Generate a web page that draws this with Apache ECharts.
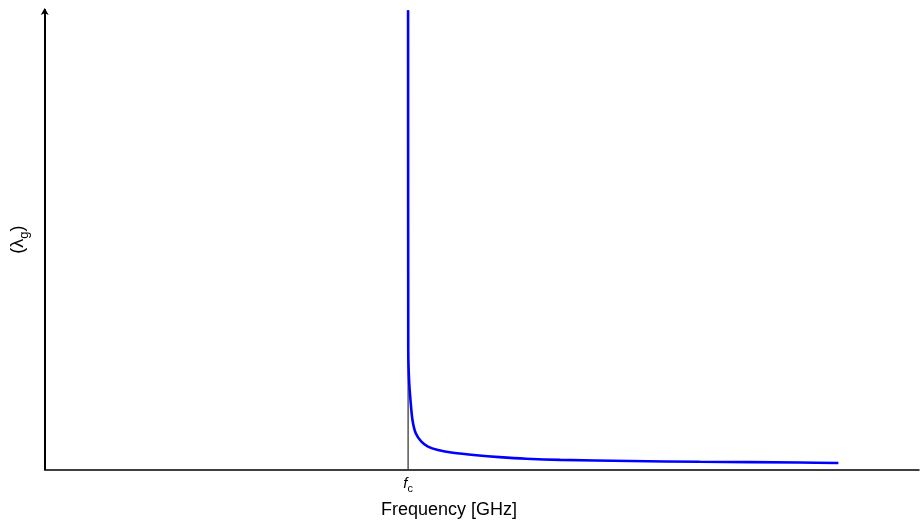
<!DOCTYPE html>
<html>
<head>
<meta charset="utf-8">
<script src="https://cdn.jsdelivr.net/npm/echarts@6/dist/echarts.min.js"></script>
<style>
  html, body { margin: 0; padding: 0; background: #fff; }
  #chart { width: 922px; height: 526px; }
</style>
</head>
<body>
<div id="chart"></div>
<script>
// frequency in units of the cutoff frequency fc, guide wavelength in arbitrary units
const freq = [1.000, 1.0005, 1.0027, 1.0066, 1.0121, 1.0211, 1.0367, 1.0548, 1.0823, 1.1234, 1.1876, 1.2515, 1.3248, 1.4189, 1.6109, 1.8029, 2.0771, 2.1842];
const lambdaG = [459, 119, 89.3, 69.3, 49.3, 36, 27.6, 22.6, 19.3, 16.6, 14.1, 12.2, 10.6, 9.4, 8.3, 7.5, 6.8, 6.3];
const cutoff = [1];
const xMax = 2.406;
const yMax = 459.3;

const font = '"Liberation Sans", Arial, Helvetica, sans-serif';

const chart = echarts.init(document.getElementById('chart'), null, { renderer: 'canvas' });

chart.setOption({
  animation: false,
  backgroundColor: '#fff',
  grid: { left: 44.7, right: 0, top: 10, bottom: 56.7, containLabel: false },
  xAxis: {
    type: 'value',
    min: 0,
    max: xMax,
    interval: 1,
    splitLine: { show: false },
    axisTick: { show: false },
    axisLine: { lineStyle: { color: '#000', width: 1.5 } },
    axisLabel: {
      margin: 7,
      formatter: v => (cutoff.includes(v) ? '{f|f}{c|c}' : ''),
      rich: {
        f: { fontFamily: font, fontStyle: 'italic', fontSize: 15, color: '#000', lineHeight: 18, verticalAlign: 'top' },
        c: { fontFamily: font, fontSize: 11, color: '#000', lineHeight: 8, verticalAlign: 'bottom' }
      }
    }
  },
  yAxis: {
    type: 'value',
    min: 0,
    max: yMax,
    splitLine: { show: false },
    axisTick: { show: false },
    axisLabel: { show: false },
    axisLine: {
      lineStyle: { color: '#000', width: 2 },
      symbol: ['none', 'arrow'],
      symbolSize: [6, 7],
      symbolOffset: [0, 2]
    },
    name: '{a|(λ}{s|g}{a|)}',
    nameLocation: 'middle',
    nameRotate: 90,
    nameGap: 14,
    nameTextStyle: {
      rich: {
        a: { fontFamily: font, fontSize: 18, color: '#000', lineHeight: 22, verticalAlign: 'top' },
        s: { fontFamily: font, fontSize: 13, color: '#000', lineHeight: 10, verticalAlign: 'bottom' }
      }
    }
  },
  graphic: [
    {
      type: 'text',
      x: 449,
      y: 510,
      style: {
        text: 'Frequency [GHz]',
        font: '18px ' + font,
        fill: '#000',
        align: 'center',
        verticalAlign: 'middle'
      }
    }
  ],
  series: [
    {
      type: 'line',
      z: 1,
      symbol: 'none',
      silent: true,
      lineStyle: { color: '#000', width: 1 },
      data: cutoff.flatMap(c => [[c, 0], [c, yMax]])
    },
    {
      type: 'line',
      z: 2,
      symbol: 'none',
      smooth: 0.3,
      lineStyle: { color: '#0000ff', width: 2.6 },
      data: freq.map((f, i) => [f, lambdaG[i]])
    }
  ]
});
</script>
</body>
</html>
